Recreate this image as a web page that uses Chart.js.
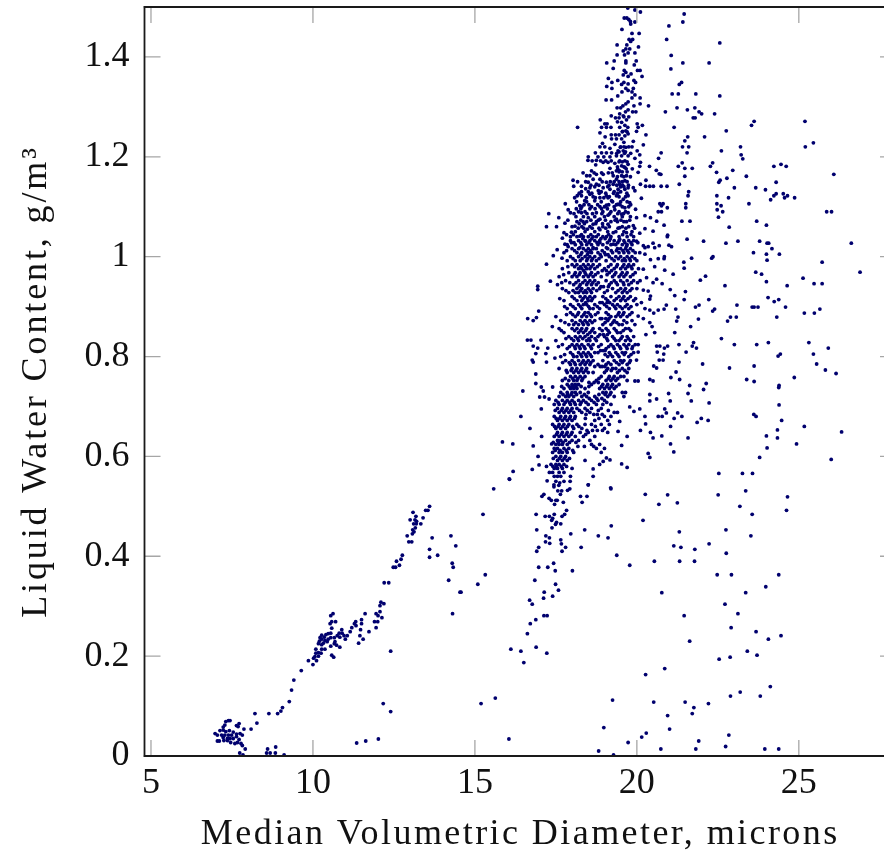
<!DOCTYPE html>
<html><head><meta charset="utf-8">
<style>html,body{margin:0;padding:0;background:#fff;overflow:hidden;width:884px;height:856px}canvas{display:block}</style>
<script src="https://cdn.jsdelivr.net/npm/chart.js@4"></script></head>
<body><canvas id="c" width="900" height="856"></canvas>
<script>
const xTickValues=[5,10,15,20,25];
const yTickValues=[0,0.2,0.4,0.6,0.8,1,1.2,1.4];
const xTitle="Median Volumetric Diameter, microns";
const yTitle="Liquid Water Content, g/m³";
const lowCluster=[[7.39,.071],[7.31,.069],[7.44,.071],[7.28,.062],[7.23,.058],[7.64,.061],[7.72,.065],[7.69,.059],[7.87,.054],[8.09,.054],[8.27,.066],[8.21,.085],[8.64,.085],[8.91,.085],[9.01,.09],[9.06,.097],[9.27,.109],[9.34,.132],[9.41,.152],[9.64,.171],[9.86,.191],[10,.183],[6.98,.045],[7.05,.042],[7.13,.051],[7.23,.052],[7.31,.049],[7.42,.051],[7.54,.048],[7.64,.044],[7.75,.045],[7.82,.042],[7.18,.042],[7.28,.042],[7.39,.042],[7.49,.042],[7.64,.039],[7.23,.037],[7.36,.035],[7.44,.035],[7.54,.035],[7.72,.033],[7.05,.03],[7.11,.03],[7.25,.031],[7.36,.031],[7.46,.027],[7.59,.025],[7.67,.027],[7.78,.025],[7.82,.021],[7.91,.014],[7.74,.006],[7.84,.002],[8.6,.014],[8.85,.018],[8.57,.006],[8.68,.006],[8.84,.006],[9.11,.002]];
const midCluster=[[10.62,.285],[10.55,.281],[10.58,.269],[10.7,.269],[10.53,.265],[10.58,.256],[10.55,.246],[10.47,.245],[10.4,.243],[10.27,.242],[10.89,.253],[10.81,.246],[10.9,.246],[10.96,.241],[11.06,.241],[10.75,.241],[10.83,.238],[11,.234],[10.55,.237],[10.66,.237],[10.35,.238],[10.22,.237],[10.47,.234],[10.27,.234],[10.37,.231],[10.2,.23],[10.32,.226],[10.44,.229],[10.68,.229],[10.17,.225],[10.27,.223],[10.55,.22],[10.73,.222],[10.83,.218],[10.66,.225],[10.09,.214],[10.27,.214],[10.37,.214],[10.09,.206],[10.17,.207],[10.25,.206],[10.58,.202],[10.64,.198],[10.06,.199],[10.17,.2],[10.02,.196],[10.11,.191]];
const armPoints=[[13.6,.5],[13.55,.492],[13.48,.492],[13.09,.488],[13.18,.48],[13.4,.477],[13,.473],[13.15,.473],[13.2,.47],[13.11,.465],[13.19,.465],[13.33,.465],[13.16,.457],[13.08,.453],[13.12,.449],[13.07,.445],[12.91,.441],[14.26,.441],[13.68,.437],[12.96,.429],[13.05,.429],[14.41,.421],[13.6,.414],[13.6,.398],[13.85,.402],[12.76,.402],[12.72,.394],[12.58,.39],[12.67,.382],[14.3,.386],[14.33,.378],[12.48,.378],[12.55,.378],[14.19,.352],[12.2,.347],[12.34,.347],[14.54,.328],[12.1,.308],[12.07,.301],[12.19,.305],[14.31,.285],[12.07,.289],[11.95,.285],[11.61,.285],[12.01,.281],[12.13,.277],[11.5,.273],[11.32,.269],[11.9,.269],[12,.269],[11.5,.265],[11.28,.265],[11.33,.261],[11.2,.257],[11.95,.257],[11.47,.253],[11.15,.249],[11.73,.249],[11.45,.241],[11.55,.234],[11.41,.226],[12.4,.21],[12.17,.105],[12.4,.089],[12.02,.034],[11.63,.03],[11.35,.026]];
const lowerColumn=[[16.07,.554],[15.58,.535],[19.2,.535],[18.5,.543],[20.26,.524],[20.68,.504],[15.25,.484],[20.19,.472],[19.21,.461],[18.81,.441],[19.11,.437],[19.38,.402],[19.78,.382],[20.54,.39],[15.32,.363],[15.09,.344],[14.57,.328],[20.27,.163],[15.19,.105],[15.63,.116],[19.25,.112],[20.52,.108],[18.98,.057],[20.29,.046],[20.15,.038],[16.05,.034],[19.73,.027],[18.82,.01],[19.28,.002],[17.23,.551],[17.5,.55],[17.75,.55],[17.94,.55],[17.62,.547],[17.44,.543],[17.59,.542],[17.44,.539],[17.93,.535],[17.86,.532],[17.56,.531],[17.68,.531],[17.64,.524],[17.13,.524],[17.07,.52],[18.26,.52],[18.46,.52],[17.29,.516],[17.36,.512],[17.5,.512],[17.54,.512],[17.73,.508],[18.31,.508],[17.46,.504],[17.83,.492],[16.89,.484],[17.45,.484],[17.77,.484],[17.17,.48],[17.3,.48],[17.69,.48],[17.4,.476],[17.37,.472],[17.52,.468],[17.49,.464],[17.65,.465],[17.38,.457],[16.91,.453],[18.39,.453],[17.96,.445],[17.19,.441],[17.3,.437],[17.65,.433],[17.18,.429],[17.31,.426],[17.67,.425],[16.97,.418],[17.8,.418],[18.28,.418],[16.91,.41],[17.69,.41],[17.43,.386],[16.97,.378],[17.25,.378],[17.48,.371],[18.01,.371],[16.85,.352],[17.49,.344],[17.58,.332],[17.14,.328],[17.12,.316],[17.4,.32],[16.69,.312],[16.77,.304],[17.13,.281],[17.23,.281],[16.88,.273],[16.71,.265],[16.62,.245],[16.89,.218],[16.11,.214],[16.42,.21],[17.22,.206],[16.51,.187]];
const rightTop=[[21.46,1.486],[21.42,1.47],[20.99,1.462],[22.56,1.428],[20.92,1.435],[21.06,1.403],[21.42,1.388],[22.23,1.388],[21.05,1.376],[21.38,1.349],[21.31,1.345],[21.09,1.326],[21.28,1.326],[21.82,1.326],[22.56,1.322],[21.24,1.298],[20.88,1.29],[21.56,1.294],[21.79,1.298],[21.92,1.29],[22,1.286],[22.4,1.286],[21.74,1.278],[21.8,1.278],[23.62,1.271],[23.54,1.263],[25.19,1.271],[21.15,1.259],[22.76,1.252],[21.57,1.24],[22.09,1.24],[21.48,1.232],[21.41,1.22],[21.6,1.22],[23.2,1.22],[25.2,1.22],[25.45,1.228],[22.61,1.212],[21.55,1.208],[20.75,1.208],[23.22,1.204],[23.27,1.196],[21.4,1.188],[22.34,1.188],[21.28,1.181],[22.27,1.181],[21.48,1.177],[21.71,1.177],[24.23,1.181],[24.45,1.185],[24.61,1.181],[22.96,1.173],[22.46,1.169],[26.08,1.165],[20.74,1.165],[21.48,1.161],[23.38,1.161],[22.78,1.157],[22.57,1.153],[22.53,1.149],[24.3,1.149],[21.31,1.145],[20.75,1.141],[20.93,1.141],[23.01,1.138],[23.67,1.138],[23.97,1.134],[21.6,1.13],[21.58,1.122],[22.47,1.122],[22.83,1.118],[24.3,1.126],[24.23,1.122],[24.13,1.114],[24.52,1.126],[24.65,1.122],[24.56,1.118],[24.87,1.118],[23.46,1.106],[21.51,1.106],[22.47,1.106],[22.6,1.102],[20.81,1.106],[20.76,1.102],[20.94,1.098],[21.51,1.098],[22.48,1.094],[22.65,1.09],[20.76,1.09],[25.86,1.09],[26.01,1.09],[22.52,1.079],[21.39,1.071],[21.64,1.071],[23.7,1.071],[20.84,1.063],[24,1.063],[22.85,1.059],[20.95,1.043],[20.94,1.04],[21.55,1.035],[22.06,1.031],[23.12,1.031],[23.79,1.031],[22.75,1.027],[24.02,1.027],[24.07,1.027],[26.62,1.027],[20.99,1.023],[21.07,1.02],[24.17,1.016],[23.6,1.008],[24,1.005],[24.4,1.005],[22.35,1],[22.31,.997],[21.69,.997],[20.85,1],[20.84,.996],[24.02,.993],[21.45,.989],[25.72,.989],[21.46,.977],[20.86,.973],[26.89,.969],[23.67,.969],[23.85,.965],[21.12,.965],[22.12,.961],[25.13,.957],[21.96,.953],[24,.95],[20.78,.946],[25.47,.946],[25.72,.946],[22.72,.942],[24.64,.942],[21.03,.934],[21.5,.93],[21.17,.922],[24.05,.918],[21.46,.914],[22.22,.914],[24.38,.914],[24.24,.91],[21.92,.903],[23.09,.903],[20.91,.903],[21.81,.899],[23.56,.899],[23.62,.899],[23.74,.899],[24.59,.899],[20.84,.895],[21.2,.895],[22.4,.895],[22.34,.891],[25.65,.895],[25.17,.887],[25.48,.887],[21.27,.879],[22.89,.879],[23.07,.879],[24.32,.879],[21.9,.875],[21.23,.871],[22.8,.871],[21.66,.86],[21.17,.848],[22.61,.836],[21.75,.828],[24.06,.828],[25.31,.828],[21.3,.824],[23.01,.824],[23.7,.824],[21.71,.821],[20.95,.821],[20.85,.817],[21.84,.817],[25.91,.817],[21.52,.809],[20.83,.805],[25.45,.805],[24.43,.805],[24.36,.801],[20.81,.793],[21.3,.789],[22.03,.785],[25.55,.785],[23.62,.781],[22.86,.777],[25.82,.773],[21.21,.769],[26.15,.766],[21.05,.758],[24.86,.758],[21.32,.754],[23.39,.754],[23.62,.75],[22.14,.746],[21.63,.742],[24.39,.742],[24.38,.738],[22.06,.734],[21.58,.726],[20.98,.726]];
const rightBottom=[[21.03,.711],[21.68,.711],[22.23,.707],[24.39,.703],[20.86,.695],[20.91,.687],[21.26,.687],[23.61,.684],[23.68,.68],[20.78,.68],[21.15,.676],[21.39,.68],[21.99,.676],[22.2,.672],[21.86,.668],[24.47,.672],[21.04,.66],[25.17,.66],[24.34,.653],[26.32,.649],[20.77,.641],[21.58,.637],[24,.641],[24.34,.637],[21.04,.625],[24.93,.625],[24.02,.617],[21.14,.609],[23.79,.598],[26,.594],[22.53,.566],[23.26,.566],[23.57,.566],[23.36,.531],[20.95,.523],[22.51,.523],[24.65,.519],[21.25,.507],[23.18,.5],[24.62,.492],[23.56,.484],[22.75,.453],[21.31,.449],[23.52,.441],[22.23,.425],[21.14,.421],[21.36,.418],[21.79,.414],[22.76,.406],[21.32,.39],[21.78,.39],[22.48,.363],[22.92,.363],[24.38,.363],[23.98,.339],[20.77,.327],[23.36,.327],[22.72,.304],[23.12,.285],[21.46,.281],[22.91,.257],[23.68,.249],[24.45,.241],[24.06,.234],[21.63,.23],[23.41,.21],[23.71,.202],[22.88,.198],[22.54,.194],[20.86,.175],[24.12,.139],[23.19,.128],[22.89,.12],[23.81,.12],[21.49,.108],[22.21,.105],[21.76,.097],[21.71,.085],[20.95,.081],[21.01,.054],[22.84,.042],[21.91,.03],[22.74,.019],[20.74,.014],[21.82,.014],[23.95,.014],[24.38,.014]];
const upperColumn=[[19.96,1.503],[19.72,1.498],[19.94,1.494],[20.11,1.49],[19.61,1.478],[19.69,1.478],[19.75,1.475],[19.8,1.471],[19.94,1.47],[19.81,1.466],[19.54,1.455],[19.85,1.447],[20.07,1.447],[19.76,1.435],[19.87,1.435],[19.81,1.431],[19.69,1.424],[19.39,1.424],[20.05,1.42],[19.66,1.416],[19.78,1.416],[19.58,1.412],[19.73,1.408],[19.94,1.408],[19.39,1.404],[19.62,1.404],[19.3,1.392],[19.66,1.392],[19.98,1.392],[19.07,1.388],[19.66,1.388],[19.92,1.384],[19.27,1.377],[19.61,1.373],[20.02,1.373],[20.1,1.373],[19.66,1.369],[19.82,1.366],[19.58,1.364],[20.16,1.361],[19.73,1.361],[19.12,1.357],[19.41,1.353],[19.91,1.353],[19.23,1.349],[19.6,1.349],[19.96,1.349],[19.73,1.346],[19.53,1.345],[19.07,1.341],[19.23,1.337],[19.66,1.337],[19.89,1.337],[19.73,1.333],[19.54,1.33],[19.85,1.33],[19.41,1.322],[19.94,1.324],[19.85,1.318],[20.1,1.318],[19.05,1.314],[19.22,1.314],[19.73,1.31],[19.66,1.306],[20.1,1.306],[20.36,1.302],[19.57,1.302],[19.91,1.302],[19.39,1.298],[19.5,1.298],[19.73,1.294],[19.65,1.29],[19.87,1.29],[19.97,1.29],[19.47,1.286],[19.21,1.282],[19.58,1.282],[19.34,1.278],[19.45,1.278],[18.87,1.274],[19.68,1.274],[19.4,1.27],[19.53,1.269],[19.01,1.266],[19.08,1.266],[20.01,1.266],[19.63,1.263],[20.17,1.263],[18.17,1.259],[18.91,1.259],[19.06,1.259],[19.2,1.259],[19.47,1.259],[19.72,1.259],[20.04,1.259],[19.66,1.252],[19.56,1.251],[19.99,1.251],[18.86,1.248],[19.73,1.246],[20.28,1.244],[19.02,1.24],[19.21,1.244],[19.34,1.244],[19.45,1.244],[19.63,1.242],[19.22,1.236],[19.37,1.236],[19.53,1.236],[19.89,1.231],[18.94,1.227],[19.6,1.229],[19.32,1.225],[20.2,1.224],[18.86,1.22],[19.01,1.22],[19.17,1.217],[19.49,1.219],[19.66,1.219],[19.85,1.22],[19.42,1.212],[19.58,1.212],[18.72,1.208],[18.91,1.208],[19.06,1.208],[19.22,1.208],[20.01,1.212],[20.09,1.204],[18.5,1.2],[18.8,1.2],[18.98,1.2],[19.17,1.2],[19.37,1.202],[19.53,1.202],[19.73,1.202],[20.67,1.197],[19.94,1.197],[18.49,1.193],[18.75,1.193],[19.47,1.192],[19.63,1.192],[20.11,1.189],[18.96,1.189],[19.11,1.189],[19.32,1.187],[19.73,1.185],[18.73,1.184],[19.53,1.182],[20.09,1.181],[20.39,1.181],[19.63,1.179],[19.17,1.177],[20.6,1.173],[19.37,1.172],[19.47,1.172],[20.04,1.169],[18.6,1.172],[20.69,1.166],[18.96,1.165],[18.75,1.165],[18.55,1.162],[18.45,1.162],[19.27,1.162],[19.53,1.162],[19.68,1.162],[20.28,1.153],[18.03,1.153],[18.86,1.155],[18.65,1.155],[19.37,1.155],[19.63,1.152],[18.5,1.149],[19.06,1.149],[20.11,1.145],[18.75,1.145],[19.27,1.145],[19.47,1.145],[18.05,1.141],[18.29,1.141],[20.27,1.141],[20.4,1.141],[20.51,1.141],[18.55,1.138],[18.96,1.138],[19.73,1.138],[19.89,1.138],[18.42,1.136],[19.17,1.135],[19.42,1.135],[19.63,1.135],[18.81,1.132],[18.29,1.13],[19.94,1.132],[18.55,1.125],[18.16,1.122],[18.29,1.122],[19.06,1.122],[19.37,1.122],[19.73,1.122],[18.86,1.118],[20.14,1.117],[19.58,1.115],[19.22,1.112],[18.7,1.112],[18.39,1.112],[18.14,1.11],[19.78,1.108],[17.79,1.106],[20.71,1.106],[19.42,1.105],[19.06,1.103],[18.24,1.102],[18.86,1.1],[19.63,1.098],[17.88,1.094],[18.55,1.096],[19.32,1.094],[19.96,1.095],[17.28,1.086],[17.95,1.088],[18.29,1.088],[18.75,1.088],[19.73,1.088],[20.66,1.09],[19.53,1.085],[19.11,1.083],[18.12,1.08],[20.25,1.082],[18.5,1.078],[19.99,1.078],[18.86,1.075],[17.59,1.078],[19.37,1.075],[20.42,1.078],[20.61,1.071],[18.34,1.07],[19.68,1.07],[17.78,1.067],[19.11,1.065],[18.65,1.065],[17.21,1.06],[17.52,1.06],[18.09,1.061],[19.89,1.062],[20.25,1.056],[19.47,1.058],[18.47,1.055],[18.86,1.054],[20.5,1.051],[17.75,1.048],[17.98,1.049],[19.27,1.048],[19.68,1.048],[20.09,1.047],[18.24,1.041],[18.65,1.04],[19.06,1.04],[17.7,1.037],[19.47,1.035],[18.42,1.031],[19.99,1.031],[18.86,1.028],[17.98,1.028],[17.78,1.025],[19.27,1.025],[17.88,1.02],[19.68,1.021],[20.25,1.018],[20.55,1.018],[18.24,1.018],[18.65,1.018],[19.06,1.018]];
const columnFringe=[[17.21,.985],[17.42,1.002],[17.54,1.014],[17.69,.997],[16.94,.941],[16.94,.934],[17.33,.951],[16.97,.891],[16.63,.876],[16.8,.872],[16.9,.878],[17.39,.86],[16.62,.833],[16.73,.833],[17.04,.833],[16.8,.821],[16.94,.817],[17.25,.817],[16.88,.806],[17.19,.806],[16.77,.793],[16.8,.789],[17.21,.789],[17.47,.797],[16.88,.765],[16.88,.746],[17.05,.739],[17.4,.739],[17.11,.731],[16.48,.731],[17,.719],[17.15,.719],[17.29,.715],[17.05,.695],[16.42,.68],[16.7,.656],[17.06,.64],[15.85,.629],[16.17,.625],[16.8,.621],[17.37,.625],[16.95,.6],[16.98,.583],[16.77,.574],[16.18,.57],[16.06,.555],[17.21,.58],[20.2,1.022],[20.35,1.02],[20.5,1.027],[20.69,1.022],[20.25,1.005],[20.09,1.008],[20.66,.996],[20.42,.994],[20.2,.975],[20.55,.98],[20.3,.958],[20.61,.955],[20.5,.948],[20.2,.933],[20.35,.931],[20.42,.921],[20.14,.908],[20.4,.915],[20.25,.896],[20.4,.893],[20.52,.887],[20.66,.893],[20.04,.881],[20.2,.876],[20.4,.868],[20.47,.86],[19.94,.864],[20.55,.848],[20.28,.844],[20.04,.824],[20.61,.821],[20.71,.821],[20.63,.809],[20.04,.809],[20.69,.793],[19.99,.793],[20.52,.781],[20.61,.777],[19.94,.751],[20.04,.751],[20.4,.754],[20.5,.751],[20.4,.724],[20.61,.715],[20.4,.711],[20.09,.695],[19.91,.69],[19.78,.699],[20.25,.68],[20.66,.68],[20.27,.665],[20.11,.652],[20.42,.648],[20.5,.637],[20.35,.606],[20.4,.598],[19.7,.578],[19.53,.585],[19.53,.622],[19.7,.64],[19.42,.65],[19.47,.67],[19.19,.537],[18.5,.543],[18.65,.56],[18.65,.575],[19.17,.593],[19.06,.597],[18.96,.59]];
const denseRows=[
[1.28,[19.6,19.75]],[1.25,[19.55,19.7]],[1.22,[19.5,19.6,19.75]],[1.21,[19.45,19.65]],[1.19,[19.45,19.55,19.7]],[1.18,[19.4,19.6]],[1.17,[19.45,19.55,19.7]],[1.16,[19.4,19.6,19.8]],[1.15,[19.3,19.45,19.55,19.7]],[1.14,[18.7,19.1,19.5,19.6]],[1.13,[18.5,18.9,19.3,19.5]],[1.12,[18.65,19.15,19.45,19.65]],[1.11,[18.45,18.9,19.25,19.5,19.7]],[1.1,[18.3,18.6,19,19.3,19.55,19.75]],[1.09,[18.2,18.4,18.95,19.2,19.45,19.65]],[1.08,[18.35,18.7,19,19.3,19.55,19.8]],[1.07,[18.15,18.45,18.75,19.2,19.4,19.6]],[1.06,[18,18.3,18.55,18.95,19.15,19.55,19.75]],[1.05,[18.1,18.4,18.7,19.1,19.35,19.6,19.85]],[1.04,[17.95,18.15,18.35,18.5,18.75,18.95,19.2,19.45,19.7,19.9]],
[1.032,[17.95,18.2,18.4,18.55,18.7,18.85,19.15,19.3,19.45,19.6,19.75,19.9]],[1.024,[17.85,18.1,18.3,18.45,18.6,18.8,18.95,19.2,19.35,19.55,19.7,19.85]],[1.016,[18,18.2,18.35,18.5,18.65,18.75,19.1,19.4,19.5,19.65,19.8]],[1.008,[17.75,18.15,18.3,18.5,18.6,18.8,19,19.25,19.45,19.6,19.75,19.95]],[1,[17.95,18.2,18.4,18.55,18.7,18.9,19.15,19.35,19.5,19.7,19.85]],[.992,[17.85,18.1,18.25,18.45,18.6,18.75,19.05,19.3,19.55,19.65,19.8,20]],[.984,[18,18.15,18.35,18.5,18.65,18.85,19.2,19.4,19.6,19.75,19.9]],[.976,[17.7,18.2,18.3,18.45,18.55,18.7,19,19.3,19.5,19.65,19.85,20.05]],[.968,[17.9,18.1,18.25,18.4,18.6,18.8,19.15,19.35,19.55,19.7,19.95]],[.96,[17.6,18,18.15,18.35,18.5,18.65,18.9,19.25,19.45,19.6,19.8]],[.952,[17.8,18.2,18.4,18.55,18.7,19.05,19.3,19.5,19.7,19.9,20.1]],[.944,[17.55,18.05,18.25,18.45,18.6,18.75,19.15,19.4,19.6,19.75]],[.936,[17.7,18.15,18.3,18.5,18.65,18.85,19.25,19.5,19.65,19.85,20]],[.928,[17.9,18.1,18.2,18.35,18.45,18.6,19,19.35,19.55,19.7]],[.92,[18,18.25,18.4,18.55,18.7,18.95,19.2,19.45,19.6,19.8]],[.912,[17.75,18.15,18.3,18.5,18.6,19.1,19.3,19.5,19.65,19.9]],[.904,[17.95,18.2,18.35,18.45,18.7,19,19.25,19.4,19.7,20]],[.896,[17.85,18.1,18.3,18.55,18.65,18.85,19.15,19.35,19.55,19.75]],[.888,[17.95,18.2,18.4,18.5,18.8,19.05,19.45,19.6,19.85]],[.88,[17.5,18.1,18.3,18.45,18.6,19.2,19.35,19.5,19.7]],[.872,[17.65,18,18.25,18.4,18.55,18.7,19.1,19.3,19.6,19.85]],[.864,[17.9,18.05,18.2,18.35,18.5,18.95,19.2,19.45,19.55]],[.856,[17.6,18,18.15,18.3,18.45,18.65,18.85,19.05,19.3,19.65,19.75]],[.848,[17.75,18.2,18.35,18.55,18.7,19.15,19.4,19.5]],[.84,[17.9,18.1,18.25,18.4,18.6,18.8,19,19.25,19.55,19.7,19.9]],[.832,[17.5,18.05,18.2,18.45,18.55,18.75,19.1,19.35,19.45,19.65,19.8]],[.824,[17.7,18,18.15,18.3,18.5,18.65,18.9,19.2,19.4,19.6,19.75,19.95]],[.816,[17.85,18.1,18.25,18.4,18.6,19.05,19.3,19.5,19.7,19.85]],[.808,[17.95,18.2,18.35,18.5,18.7,18.8,19.15,19.35,19.55,19.65,19.9]],[.8,[17.65,18.05,18.15,18.3,18.45,18.6,19.1,19.25,19.45,19.75]],[.792,[17.8,18,18.2,18.35,18.5,18.65,18.95,19.3,19.5,19.6,19.8]],[.784,[17.95,18.1,18.25,18.4,18.55,18.8,19.05,19.2,19.45,19.7]],[.776,[17.6,18,18.15,18.3,18.45,19.1,19.25,19.35,19.55,19.75]],[.768,[17.85,18.05,18.2,18.35,18.5,18.65,19,19.4,19.7]],[.76,[17.95,18.1,18.25,18.4,18.9,19.15,19.3,19.5,19.6]],[.752,[17.7,17.9,18.05,18.15,18.3,18.75,19.05,19.2,19.35,19.7]],[.744,[17.85,18,18.1,18.2,18.6,18.95,19.1,19.25,19.45]],[.736,[17.75,17.95,18.05,18.15,18.4,18.85,19,19.15,19.3]],[.728,[17.65,17.85,18,18.1,18.25,18.5,18.95,19.05,19.2,19.55,19.65]],[.72,[17.6,17.8,17.9,18.05,18.3,18.45,18.7,19.1,19.3,19.6]],[.712,[17.5,17.7,17.85,18,18.2,18.35,18.6,18.8,19]],[.704,[17.45,17.6,17.75,17.95,18.1,18.25,18.5,18.75,18.95,19.2]],[.696,[17.55,17.7,17.85,18,18.15,18.4,18.6,18.9]],[.688,[17.6,17.75,17.9,18.05,18.3,18.55,19.3,19.4]],[.68,[17.45,17.65,17.8,17.95,18.1,19,19.2]],[.672,[17.55,17.7,17.85,18,18.7,19.1]],[.664,[17.4,17.6,17.75,17.9,18.15,18.4,18.6,18.9,19.15]],[.656,[17.5,17.65,17.8,18.05,18.3,19]],[.648,[17.55,17.7,17.85,18,18.25,18.5,19.1]],[.64,[17.45,17.6,17.75,17.9,18.1,18.35,18.7]],[.632,[17.55,17.65,17.8,18,18.2,18.55]],[.624,[17.5,17.6,17.7,17.85,18.6,18.85]],[.616,[17.45,17.55,17.75,17.9,18.75,19]],[.608,[17.4,17.6,17.7,17.85,18.05,18.9]],[.6,[17.5,17.65,17.8]],[.592,[17.55,17.7,17.85,18.4]],[.584,[17.35,17.5,17.6,17.75,18.85]],[.576,[17.45,17.55,17.7,18]],[.568,[17.3,17.4,17.6,17.75]],[.56,[17.45,17.55,17.65,17.95]]];
const denseFill=[
[1.207,[19.38,19.62,19.81]],[1.176,[19.41,19.67,19.86]],[1.143,[18.58,18.83,19.14,19.38,19.56,19.74]],[1.127,[18.22,18.61,18.84,19.04,19.28,19.41,19.69]],[1.104,[18.37,18.52,18.79,19.13,19.37,19.48,19.81]],[1.086,[18.06,18.46,18.63,18.92,19.16,19.41,19.59]],[1.073,[17.87,18.27,18.58,18.81,19.03,19.33,19.51,19.78]],[1.057,[18.19,18.36,18.62,18.83,19.04,19.42,19.66,19.93]],[1.044,[17.83,18.04,18.29,18.58,18.81,19.13,19.56,19.82]],[1.028,[18.06,18.27,18.52,18.77,19.09,19.41,19.63,19.82,20.03]],[1.012,[17.83,18.08,18.43,18.57,18.93,19.21,19.37,19.57,19.71,19.88]],[.996,[18.03,18.31,18.48,18.63,18.83,19.23,19.43,19.61,19.77,19.94]],[.98,[17.87,18.08,18.26,18.41,18.59,18.78,19.12,19.37,19.56,19.71,19.82]],[.964,[17.74,18.07,18.22,18.43,18.56,18.72,19.08,19.31,19.51,19.66,19.88]],[.948,[17.68,17.93,18.12,18.33,18.49,18.64,18.81,19.21,19.36,19.58,19.83,20.02]],[.932,[17.81,18.03,18.26,18.41,18.56,18.76,19.09,19.42,19.61,19.79]],[.916,[17.62,18.07,18.34,18.48,18.63,19.04,19.37,19.56,19.73,19.96]],[.9,[17.77,18.03,18.26,18.51,18.78,19.07,19.31,19.48,19.64,19.82]],[.884,[17.83,18.02,18.17,18.36,18.56,18.72,19.12,19.42,19.57,19.78]],[.868,[17.78,18.11,18.32,18.46,18.62,19.02,19.26,19.38,19.69]],[.852,[17.67,18.08,18.26,18.42,18.61,18.93,19.11,19.36,19.58,19.81]],[.836,[17.81,17.98,18.17,18.33,18.52,18.71,19.07,19.3,19.51,19.74]],[.82,[17.58,17.92,18.08,18.22,18.37,18.57,18.82,19.13,19.27,19.47,19.67,19.87]],[.804,[17.77,18.02,18.27,18.42,18.56,19.02,19.19,19.41,19.61,19.82]],[.788,[17.71,17.91,18.07,18.31,18.44,18.58,19.12,19.37,19.55,19.77]],[.772,[17.82,17.97,18.12,18.27,18.42,19.06,19.21,19.46,19.63]],[.756,[17.79,18.02,18.18,18.33,18.83,19.12,19.26,19.41]],[.74,[17.68,17.91,18.02,18.12,18.28,18.52,18.91,19.07,19.21,19.36]],[.724,[17.72,17.86,17.97,18.14,18.38,18.83,19.02,19.17]],[.708,[17.57,17.79,17.92,18.07,18.28,18.43,18.68,19.07]],[.692,[17.48,17.67,17.81,17.96,18.23,18.47,18.81,19.12]],[.676,[17.51,17.62,17.77,17.92,18.08,18.41,18.83]],[.66,[17.46,17.57,17.71,17.86,18.02,18.21,18.72]],[.644,[17.52,17.67,17.82,17.97,18.42]],[.628,[17.42,17.58,17.72,17.92,18.12]],[.612,[17.48,17.63,17.82,18.02]],[.596,[17.42,17.61,17.76,17.92]],[.58,[17.41,17.52,17.67,17.83]]];
const centerBridge=[
[1.192,[18.62,18.88,19.04,19.21]],[1.168,[18.34,18.68,18.91,19.12,19.24]],[1.15,[18.17,18.42,18.93,19.18]],[1.118,[18.08,18.44,18.72,18.98,19.11]],[1.096,[18.13,18.27,18.71,18.91,19.09]],[1.066,[18.22,18.38,18.73,18.94]],[1.036,[18.33,18.61,18.89,19.02,19.18]],[1.004,[18.27,18.47,18.87,19.03,19.11]],[.972,[18.36,18.93,19.06,19.22]],[.94,[18.22,18.89,18.97,19.12]],[.908,[18.42,18.86,18.93,19.08,19.16]],[.876,[18.87,18.92,19.04,19.14]],[.844,[18.48,18.86,18.97,19.09]],[.812,[18.88,18.96,19.02]],[.78,[18.7,18.87,18.93,19.01]],[.748,[18.52,18.68,18.81]],[.716,[18.53,18.76,18.92]],[.684,[18.43,18.67,18.78,18.93]],[.652,[18.46,18.63,18.78,18.94]],[.62,[18.18,18.38,18.67]]];
const pairs=[...lowCluster,...midCluster,...armPoints,...lowerColumn,...rightTop,...rightBottom,...upperColumn,...columnFringe];
const points=pairs.map(([x,y])=>({x,y}));
[...denseRows,...denseFill,...centerBridge].forEach(([y,xs])=>xs.forEach(x=>points.push({x,y})));
const FONT='"Liberation Serif",serif';
function spacedTitle(s,sp){
 if(s._spaced)return; s._spaced=true;
 const orig=s.drawTitle;
 s.drawTitle=function(...a){const c=this.ctx;c.save();c.letterSpacing=sp;orig.apply(this,a);c.restore();};
}
const innerTicks={id:'innerTicks',afterDatasetsDraw(ch){
 const c=ch.ctx,a=ch.chartArea,L=16;
 c.save();c.strokeStyle='#a6a6a6';c.lineWidth=1.3;c.beginPath();
 ch.scales.x.ticks.forEach(t=>{const p=ch.scales.x.getPixelForValue(t.value);c.moveTo(p,a.bottom);c.lineTo(p,a.bottom-L);c.moveTo(p,a.top);c.lineTo(p,a.top+L);});
 ch.scales.y.ticks.forEach(t=>{const p=ch.scales.y.getPixelForValue(t.value);c.moveTo(a.left,p);c.lineTo(a.left+L,p);c.moveTo(a.right,p);c.lineTo(a.right-L,p);});
 c.stroke();
 c.strokeStyle='#1a1a1a';c.lineWidth=1.8;c.beginPath();
 c.moveTo(a.left-1,a.top);c.lineTo(a.right,a.top);c.moveTo(a.left-1,a.bottom);c.lineTo(a.right,a.bottom);c.moveTo(a.left,a.top);c.lineTo(a.left,a.bottom);c.stroke();
 c.restore();}};
new Chart(document.getElementById('c'),{type:'scatter',
 data:{datasets:[{data:points,backgroundColor:'#00006e',borderWidth:0,pointRadius:1.9,pointHoverRadius:1.9}]},
 plugins:[innerTicks],
 options:{responsive:false,animation:false,devicePixelRatio:1,
  layout:{autoPadding:false,padding:{top:7,right:4,left:0,bottom:0}},
  plugins:{legend:{display:false},tooltip:{enabled:false}},
  scales:{
   x:{type:'linear',min:4.8,max:28,grid:{display:false},border:{display:false},
    afterBuildTicks(s){s.ticks=xTickValues.map(value=>({value}));spacedTitle(s,'2.43px');},
    afterFit(s){s.height=100;s.paddingLeft=0;s.paddingRight=0;},
    ticks:{color:'#111',padding:-2,maxRotation:0,autoSkip:false,font:{family:FONT,size:36},callback:v=>String(v)},
    title:{display:true,text:xTitle,color:'#111',font:{family:FONT,size:36},padding:{top:0,bottom:0}}},
   y:{type:'linear',min:0,max:1.5,grid:{display:false},border:{display:false},
    afterBuildTicks(s){s.ticks=yTickValues.map(value=>({value}));spacedTitle(s,'2.88px');},
    afterFit(s){s.width=144.5;s.paddingTop=0;s.paddingBottom=0;},
    ticks:{color:'#111',padding:7,autoSkip:false,font:{family:FONT,size:36},callback:v=>String(v)},
    title:{display:true,text:yTitle,color:'#111',font:{family:FONT,size:36},padding:{top:15,bottom:0}}}
  }}});
</script></body></html>
